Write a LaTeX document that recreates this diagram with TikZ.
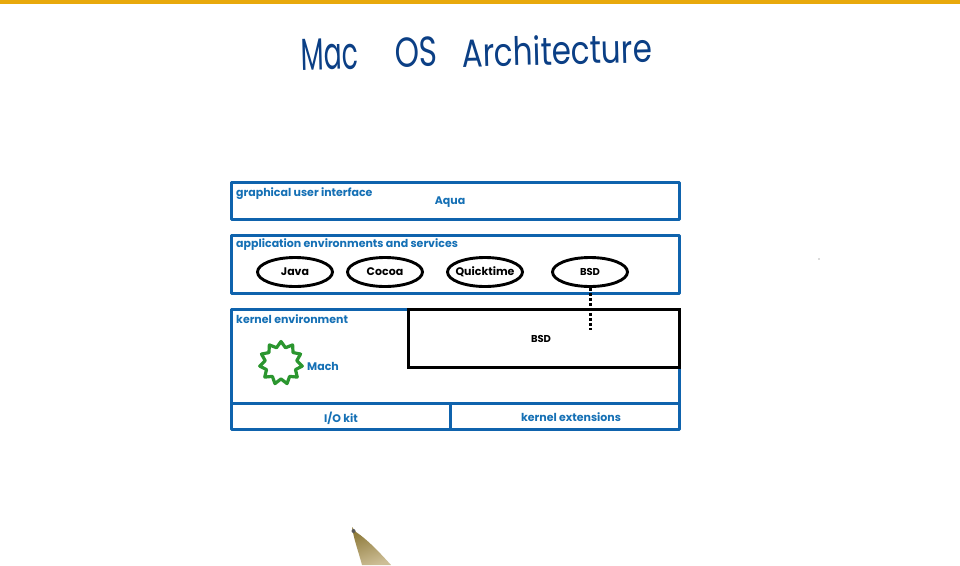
\documentclass[tikz,border=0pt]{standalone}
\usepackage{fontspec}
\setmainfont{Poppins}
\usetikzlibrary{shapes.geometric}
\definecolor{boxblue}{HTML}{0F63AD}
\definecolor{txtblue}{HTML}{1570B5}
\definecolor{titleblue}{HTML}{0B3F85}
\definecolor{topbar}{HTML}{E8A90C}
\definecolor{stargreen}{HTML}{2B962F}
\definecolor{pendark}{HTML}{8C7838}
\definecolor{penlight}{HTML}{CDBE96}
\newcommand{\ovaltext}[1]{\raisebox{-1pt}{\makebox[0pt]{#1}}}
\tikzset{
  panel/.style={draw=boxblue,line width=3pt,line join=round,fill=white,inner sep=0pt,outer sep=0pt,anchor=north west},
  lab/.style={text=txtblue,font=\fontsize{11}{12}\selectfont\bfseries,inner sep=0pt,text depth=0pt},
  blk/.style={text=black,font=\fontsize{10}{12}\selectfont\bfseries,inner sep=0pt},
  oval/.style={ellipse,draw=black,line width=2.9pt,minimum width=75pt,minimum height=29pt,inner sep=0pt,fill=white,text=black,font=\fontsize{11}{12}\selectfont\bfseries},
  ttl/.style={text=titleblue,inner sep=0pt,rotate=1.5,transform shape}
}
\begin{document}
\begin{tikzpicture}[x=1pt,y=-1pt]
\useasboundingbox (0,0) rectangle (960,565);
\fill[white] (0,0) rectangle (960,565);
\fill[topbar] (0,0) rectangle (960,4);
% title
\node[ttl,xscale=.86,yscale=1.45,font=\fontsize{31}{34}\selectfont] (t1) at (330,54) {Mac};
\node[ttl,xscale=1,yscale=1.35,font=\fontsize{31}{34}\selectfont] (t2) at (416,52) {OS};
\node[ttl,xscale=1.07,yscale=1.35,font=\fontsize{29}{34}\selectfont] (t3) at (557,50) {Architecture};
% panels
\node[panel,minimum width=448pt,minimum height=37pt] (gui) at (231,182) {};
\node[panel,minimum width=448pt,minimum height=58pt] (app) at (231,235) {};
\node[panel,minimum width=448pt,minimum height=94pt] (kern) at (231,309) {};
\node[panel,minimum width=219pt,minimum height=26pt] (io) at (231,403) {};
\node[panel,minimum width=229pt,minimum height=26pt] (ext) at (450,403) {};
\node[lab,anchor=west] (guil) at (236,192.5) {graphical user interface};
\node[lab] (aqua) at (450,201) {Aqua};
\node[lab,anchor=west] (appl) at (236,243.5) {application environments and services};
\node[lab,anchor=west] (kernl) at (236,319) {kernel environment};
\node[lab] (mach) at (323,366) {Mach};
\node[lab] (iol) at (341,417.5) {I/O kit};
\node[lab] (extl) at (571,417.5) {kernel extensions};
% ovals
\node[oval] (java) at (295,272) {\ovaltext{Java}};
\node[oval] (cocoa) at (385,272) {\ovaltext{Cocoa}};
\node[oval] (quick) at (485,272) {\ovaltext{Quicktime}};
\node[oval,font=\fontsize{10}{12}\selectfont\bfseries] (bsdo) at (590,272) {\ovaltext{BSD}};
% BSD box
\node[draw=black,line width=3pt,minimum width=271pt,minimum height=58pt,inner sep=0pt,outer sep=0pt,anchor=north west,fill=white] (bsdb) at (408,309) {};
\node[blk] (bsdl) at (541,338.5) {BSD};
% dotted link
\coordinate (dotend) at (590,330);
\draw[line width=3pt,black,dash pattern=on 2.6pt off 2.4pt] (bsdo.south) -- (dotend);
% star
\node[star,star points=11,star point ratio=1.35,draw=stargreen,line width=3.2pt,line join=round,minimum size=43pt,inner sep=0pt] (machs) at (281,363) {};
% pen
\shade[left color=pendark,right color=penlight,shading angle=20] (352,527) -- (356,532) .. controls (368,540) and (380,553) .. (391,565) -- (362,565) .. controls (358,550) and (354,540) .. (352,527) -- cycle;
\fill[black!65] (353.5,531) circle (2);
\fill[black!60] (819,259) circle (0.7);
\end{tikzpicture}
\end{document}
